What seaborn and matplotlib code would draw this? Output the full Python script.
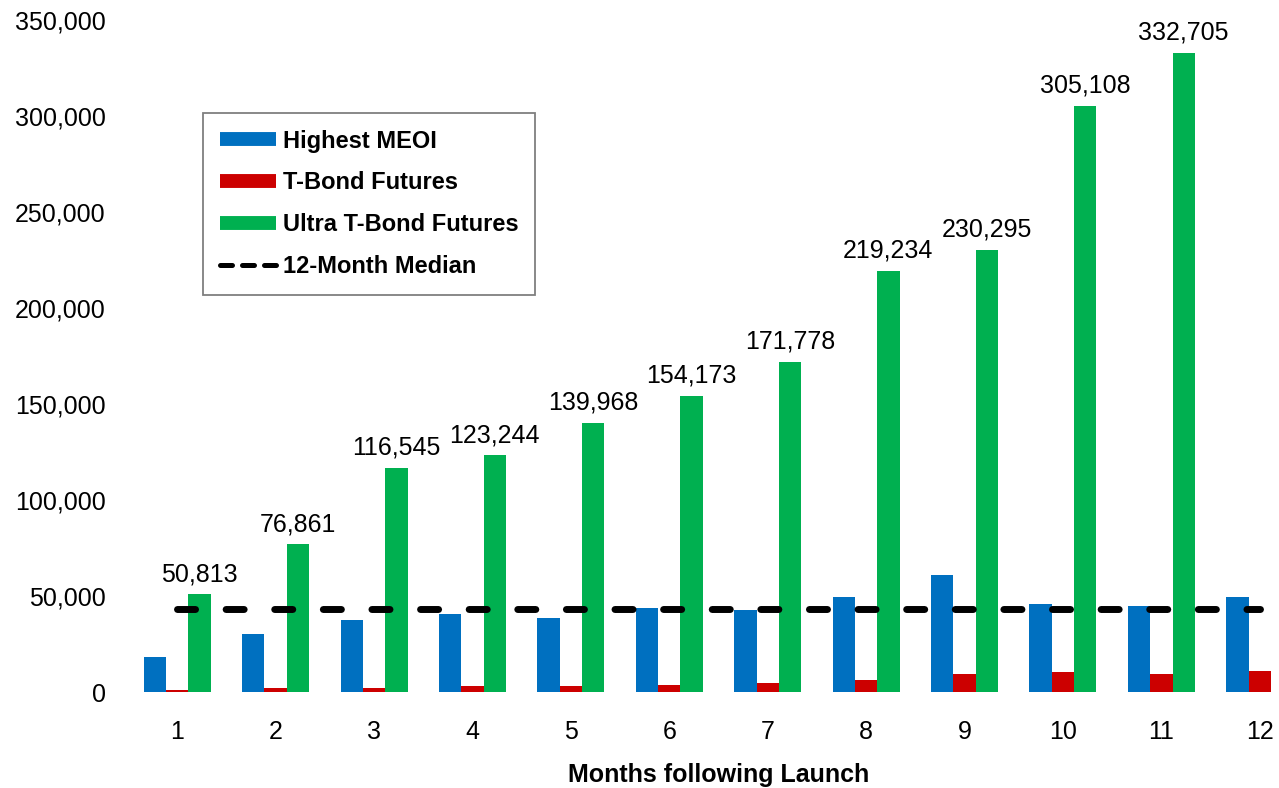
import numpy as np
import pandas as pd
import seaborn as sns
import matplotlib.pyplot as plt
from matplotlib.lines import Line2D
from matplotlib.ticker import StrMethodFormatter

sns.set_style("white")
plt.rcParams['font.family'] = ['Liberation Sans', 'DejaVu Sans']
plt.rcParams.update({'text.color': 'black', 'axes.labelcolor': 'black',
                     'xtick.color': 'black', 'ytick.color': 'black'})

# values
months = [str(m) for m in range(1, 13)]
highest_meoi = [18200, 30000, 37500, 40600, 38500, 44000, 42700, 49500, 61000, 45800, 44800, 49500]
tbond = [1000, 2200, 2200, 3300, 3300, 3800, 4900, 6400, 9200, 10200, 9200, 10800]
ultra_tbond = [50813, 76861, 116545, 123244, 139968, 154173, 171778, 219234, 230295, 305108, 332705, np.nan]
median_12m = 43200
series = ['Highest MEOI', 'T-Bond Futures', 'Ultra T-Bond Futures']
colors = ['#0070C0', '#CC0000', '#00B050']
yticks = [0, 50000, 100000, 150000, 200000, 250000, 300000, 350000]

df = pd.DataFrame({
    'Month': months * 3,
    'Series': np.repeat(series, len(months)),
    'Value': highest_meoi + tbond + ultra_tbond,
})

fig = plt.figure(figsize=(12.79, 7.88), dpi=100)
ax = fig.add_axes([128 / 1279, 1 - 692 / 788, 1181 / 1279, 672 / 788])

sns.barplot(data=df, x='Month', y='Value', hue='Series', order=months, hue_order=series,
            palette=colors, width=0.68, saturation=1, errorbar=None, legend=False,
            linewidth=0, ax=ax)

# value labels on the green bars
ax.bar_label(ax.containers[2], fmt='{:,.0f}', padding=6, fontsize=18, color='black')

# 12-month median line
ax.plot(range(len(months)), [median_12m] * len(months), zorder=5, color='black', lw=5,
        dashes=(2.6, 4.4), dash_capstyle='round')

ax.set_xlim(-0.5, len(months) - 0.5)
ax.set_ylim(0, 350000)
ax.set_yticks(yticks)
ax.yaxis.set_major_formatter(StrMethodFormatter('{x:,.0f}'))
ax.tick_params(axis='both', length=0, labelsize=18, colors='black')
ax.tick_params(axis='y', pad=16)
ax.tick_params(axis='x', pad=20)
ax.set_ylabel('')
ax.set_xlabel('Months following Launch', fontsize=18, fontweight='bold', labelpad=14)
sns.despine(ax=ax, left=True, bottom=True)

handles = [Line2D([], [], color=c, lw=10, solid_capstyle='butt') for c in colors]
handles.append(Line2D([], [], color='black', lw=3.6, dashes=(2.4, 2.0), dash_capstyle='round'))
leg = fig.legend(handles, series + ['12-Month Median'], loc='upper left',
                 bbox_to_anchor=(203 / 1279, 1 - 113 / 788), bbox_transform=fig.transFigure,
                 prop={'size': 17, 'weight': 'bold'}, handlelength=2.4, handletextpad=0.3,
                 labelspacing=0.8, borderpad=0.7, borderaxespad=0, fancybox=False, framealpha=1)
leg.get_frame().set_edgecolor('#7f7f7f')
leg.get_frame().set_linewidth(1.3)
for t in leg.get_texts():
    t.set_color('black')

plt.savefig('out.png', dpi=100)
